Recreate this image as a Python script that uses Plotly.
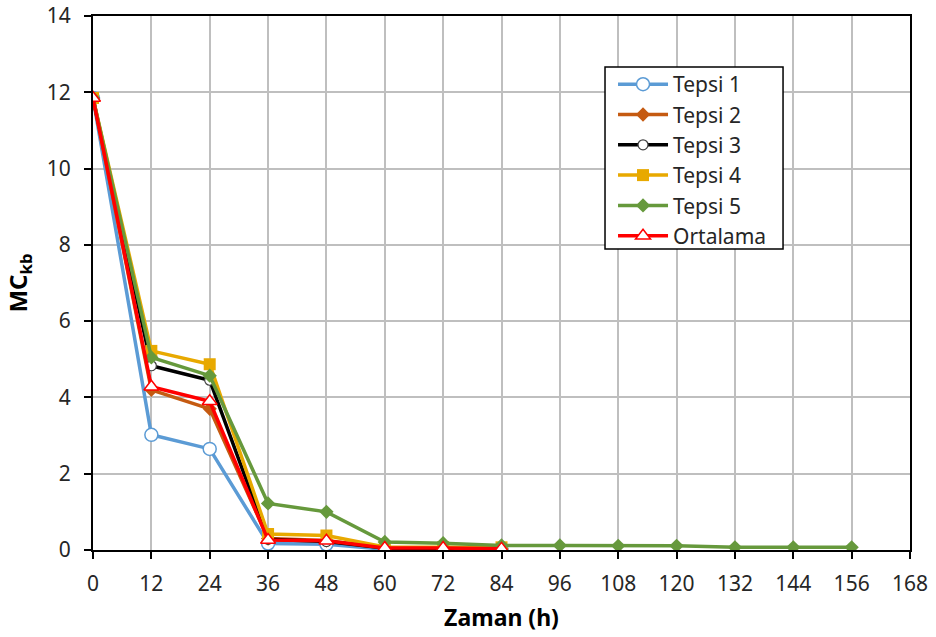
import plotly.graph_objects as go

# Drying time (h)
zaman = [0, 12, 24, 36, 48, 60, 72, 84]
zaman_t5 = [0, 12, 24, 36, 48, 60, 72, 84, 96, 108, 120, 132, 144, 156]

# Moisture content (dry basis) per tray
tepsi1 = [11.85, 3.02, 2.65, 0.17, 0.15, 0.02, 0.01, 0.0]
tepsi2 = [11.85, 4.2, 3.7, 0.3, 0.25, 0.05, 0.05, 0.03]
tepsi3 = [11.85, 4.83, 4.45, 0.28, 0.22, 0.05, 0.04, 0.02]
tepsi4 = [11.85, 5.22, 4.87, 0.42, 0.38, 0.08, 0.07, 0.07]
tepsi5 = [11.85, 5.05, 4.57, 1.22, 1.0, 0.21, 0.18, 0.12,
          0.12, 0.11, 0.11, 0.07, 0.07, 0.07]
ortalama = [11.85, 4.28, 3.9, 0.26, 0.24, 0.05, 0.05, 0.03]

x_ticks = list(range(0, 169, 12))
y_ticks = list(range(0, 15, 2))

FONT = "Noto Sans"
LW = 3.5

series = [
    ("Tepsi 1", zaman, tepsi1, "#5B9BD5",
     dict(symbol="circle", size=13, color="white", line=dict(color="#5B9BD5", width=1.5))),
    ("Tepsi 2", zaman, tepsi2, "#C55A11",
     dict(symbol="diamond", size=11, color="#C55A11", line=dict(width=0))),
    ("Tepsi 3", zaman, tepsi3, "#000000",
     dict(symbol="circle", size=10, color="white", line=dict(color="#404040", width=1.2))),
    ("Tepsi 4", zaman, tepsi4, "#E8A900",
     dict(symbol="square", size=12, color="#E8A900", line=dict(width=0))),
    ("Tepsi 5", zaman_t5, tepsi5, "#66993C",
     dict(symbol="diamond", size=11, color="#66993C", line=dict(width=0))),
    ("Ortalama", zaman, ortalama, "#FF0000",
     dict(symbol="triangle-up", size=13, color="white", line=dict(color="#FF0000", width=1.5))),
]

fig = go.Figure()
for name, xs, ys, col, mk in series:
    fig.add_trace(go.Scatter(
        x=xs, y=ys, name=name, mode="lines+markers",
        line=dict(color=col, width=LW), marker=mk,
    ))

axis_common = dict(
    showline=True, linecolor="black", linewidth=2, mirror=True,
    ticks="outside", ticklen=7, tickwidth=2, tickcolor="black",
    showgrid=True, gridcolor="#BFBFBF", gridwidth=1.5,
    zeroline=False, automargin=False,
    tickfont=dict(family=FONT, size=21, color="#262626"),
)

fig.update_xaxes(
    range=[0, 168], tickvals=x_ticks, ticktext=[str(v) for v in x_ticks],
    ticklabelstandoff=7,
    title=dict(text="<b>Zaman (h)</b>", font=dict(family=FONT, size=23, color="black"), standoff=14),
    **axis_common,
)
fig.update_yaxes(
    range=[0, 14], tickvals=y_ticks, ticktext=[str(v) for v in y_ticks],
    ticklabelstandoff=9,
    title=dict(text="<b>MC<sub>kb</sub></b>", font=dict(family=FONT, size=24, color="black"), standoff=12),
    **axis_common,
)

# Framed box behind the legend entries
fig.add_shape(
    type="rect", xref="paper", yref="paper",
    x0=0.6267, x1=0.8446, y0=0.5637, y1=0.9045,
    line=dict(color="black", width=1.5), fillcolor="white", layer="above",
)

fig.update_layout(
    width=936, height=637,
    margin=dict(l=93, r=26, t=16, b=87),
    paper_bgcolor="white", plot_bgcolor="white",
    showlegend=True,
    legend=dict(
        x=0.6365, y=0.910, xanchor="left", yanchor="top",
        bgcolor="rgba(0,0,0,0)", borderwidth=0,
        font=dict(family=FONT, size=21, color="#262626"),
        tracegroupgap=0, itemwidth=50,
    ),
)

fig.write_html("out.html")
